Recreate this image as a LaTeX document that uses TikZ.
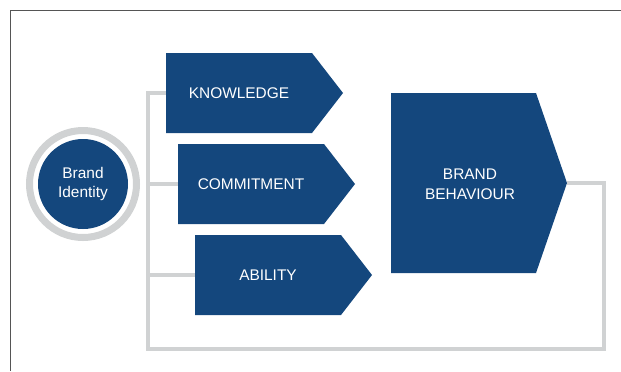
\documentclass[tikz,border=0pt]{standalone}
\usepackage{fontspec}
\setmainfont{Liberation Sans}
\usepackage{xcolor}
\usepackage{tikz}
\usetikzlibrary{math}
\definecolor{bbblue}{RGB}{20,71,125}
\definecolor{bbgrey}{RGB}{208,210,211}
\definecolor{bbframe}{RGB}{85,85,85}

\begin{document}
\begin{tikzpicture}[x=1bp,y=-1bp,
	box/.style={fill=bbblue},
	lbl/.style={text=white,font=\fontsize{15.5}{20}\selectfont,align=center,inner sep=0pt},
	link/.style={draw=bbgrey,line width=4.5bp,line join=miter}]
\useasboundingbox (0,0) rectangle (621,371);
\tikzmath{
	\w = 146;\t = 31;\h = 80;
	\sx = 148;\by = 349;\rx = 604;
	\kx = 166;\ky = 53;
	\cx = 178;\cy = 144;
	\ax = 195;\ay = 235;
	%
	{\coordinate (ka) at (\kx,\ky);};
	{\coordinate (kb) at (\kx+\w,\ky);};
	{\coordinate (kc) at (\kx+\w+\t,\ky+\h/2);};
	{\coordinate (kd) at (\kx+\w,\ky+\h);};
	{\coordinate (ke) at (\kx,\ky+\h);};
	{\coordinate (kl) at (\kx,\ky+\h/2);};
	%
	{\coordinate (ca) at (\cx,\cy);};
	{\coordinate (cb) at (\cx+\w,\cy);};
	{\coordinate (cc) at (\cx+\w+\t,\cy+\h/2);};
	{\coordinate (cd) at (\cx+\w,\cy+\h);};
	{\coordinate (ce) at (\cx,\cy+\h);};
	{\coordinate (cl) at (\cx,\cy+\h/2);};
	%
	{\coordinate (aa) at (\ax,\ay);};
	{\coordinate (ab) at (\ax+\w,\ay);};
	{\coordinate (ac) at (\ax+\w+\t,\ay+\h/2);};
	{\coordinate (ad) at (\ax+\w,\ay+\h);};
	{\coordinate (ae) at (\ax,\ay+\h);};
	{\coordinate (al) at (\ax,\ay+\h/2);};
	%
	{\coordinate (ba) at (391,93);};
	{\coordinate (bb) at (536,93);};
	{\coordinate (bc) at (567,183);};
	{\coordinate (bd) at (536,273);};
	{\coordinate (be) at (391,273);};
	%
	{\coordinate (s1) at (\sx,\ky+\h/2);};
	{\coordinate (s2) at (\sx,\cy+\h/2);};
	{\coordinate (s3) at (\sx,\ay+\h/2);};
	{\coordinate (s4) at (\sx,\by);};
	{\coordinate (r1) at (\rx,\by);};
	{\coordinate (r2) at (\rx,183);};
	%
	{\draw[link] (kl) -- (s1) -- (s4) -- (r1) -- (r2) -- (bc);};
	{\draw[link] (s2) -- (cl);};
	{\draw[link] (s3) -- (al);};
	%
	{\fill[box] plot[] coordinates {(ka) (kb) (kc) (kd) (ke)} -- cycle;};
	{\fill[box] plot[] coordinates {(ca) (cb) (cc) (cd) (ce)} -- cycle;};
	{\fill[box] plot[] coordinates {(aa) (ab) (ac) (ad) (ae)} -- cycle;};
	{\fill[box] plot[] coordinates {(ba) (bb) (bc) (bd) (be)} -- cycle;};
	%
	{\node[lbl] (knowledge) at (\kx+\w/2,\ky+\h/2) {KNOWLEDGE};};
	{\node[lbl] (commitment) at (\cx+\w/2,\cy+\h/2) {COMMITMENT};};
	{\node[lbl] (ability) at (\ax+\w/2,\ay+\h/2) {ABILITY};};
	{\node[lbl] (behaviour) at (470,184) {BRAND\\BEHAVIOUR};};
	%
	{\node[circle,fill=bbblue,minimum size=90bp,lbl] (identity) at (83,184) {Brand\\Identity};};
	{\draw[bbgrey,line width=7bp] (identity.center) circle (53.5bp);};
};
\draw[bbframe,line width=1.5bp] (621,10.5) -- (10.5,10.5) -- (10.5,371);
\end{tikzpicture}
\end{document}
